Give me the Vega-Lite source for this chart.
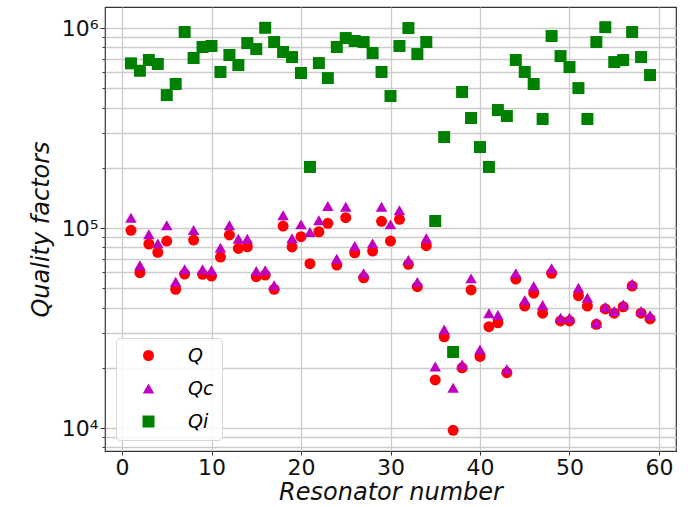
{
  "$schema": "https://vega.github.io/schema/vega-lite/v6.json",
  "width": 571,
  "height": 444,
  "autosize": "none",
  "padding": {"left": 105, "top": 7, "right": 18, "bottom": 56},
  "background": "white",
  "config": {
    "font": "DejaVu Sans",
    "view": {"stroke": "#333333", "strokeWidth": 1.2},
    "axis": {"domain": false, "tickColor": "#333333", "labelColor": "#111111", "titleColor": "#111111", "gridColor": "#cccccc", "gridWidth": 1.3}
  },
  "data": {"values": [
    {"n":1,"s":"Q","v":97400},{"n":2,"s":"Q","v":59800},{"n":3,"s":"Q","v":83200},{"n":4,"s":"Q","v":75600},{"n":5,"s":"Q","v":86100},
    {"n":6,"s":"Q","v":49400},{"n":7,"s":"Q","v":58900},{"n":8,"s":"Q","v":87100},{"n":9,"s":"Q","v":58700},{"n":10,"s":"Q","v":57500},
    {"n":11,"s":"Q","v":71600},{"n":12,"s":"Q","v":92300},{"n":13,"s":"Q","v":79100},{"n":14,"s":"Q","v":80600},{"n":15,"s":"Q","v":57100},
    {"n":16,"s":"Q","v":58200},{"n":17,"s":"Q","v":49400},{"n":18,"s":"Q","v":102300},{"n":19,"s":"Q","v":80400},{"n":20,"s":"Q","v":90500},
    {"n":21,"s":"Q","v":66300},{"n":22,"s":"Q","v":95800},{"n":23,"s":"Q","v":105600},{"n":24,"s":"Q","v":65300},{"n":25,"s":"Q","v":112600},
    {"n":26,"s":"Q","v":75200},{"n":27,"s":"Q","v":56400},{"n":28,"s":"Q","v":76700},{"n":29,"s":"Q","v":108000},{"n":30,"s":"Q","v":86100},
    {"n":31,"s":"Q","v":110500},{"n":32,"s":"Q","v":65800},{"n":33,"s":"Q","v":50900},{"n":34,"s":"Q","v":81600},{"n":35,"s":"Q","v":17400},
    {"n":36,"s":"Q","v":28600},{"n":37,"s":"Q","v":9740},{"n":38,"s":"Q","v":20000},{"n":39,"s":"Q","v":49000},{"n":40,"s":"Q","v":22800},
    {"n":41,"s":"Q","v":32100},{"n":42,"s":"Q","v":33600},{"n":43,"s":"Q","v":18900},{"n":44,"s":"Q","v":55600},{"n":45,"s":"Q","v":40700},
    {"n":46,"s":"Q","v":47200},{"n":47,"s":"Q","v":37500},{"n":48,"s":"Q","v":59400},{"n":49,"s":"Q","v":34300},{"n":50,"s":"Q","v":34300},
    {"n":51,"s":"Q","v":45900},{"n":52,"s":"Q","v":40700},{"n":53,"s":"Q","v":33000},{"n":54,"s":"Q","v":39400},{"n":55,"s":"Q","v":37500},
    {"n":56,"s":"Q","v":40400},{"n":57,"s":"Q","v":51300},{"n":58,"s":"Q","v":37500},{"n":59,"s":"Q","v":35100},
    {"n":1,"s":"Qc","v":112600},{"n":2,"s":"Qc","v":65100},{"n":3,"s":"Qc","v":93000},{"n":4,"s":"Qc","v":83800},{"n":5,"s":"Qc","v":103200},
    {"n":6,"s":"Qc","v":53900},{"n":7,"s":"Qc","v":62200},{"n":8,"s":"Qc","v":97700},{"n":9,"s":"Qc","v":62200},{"n":10,"s":"Qc","v":61500},
    {"n":11,"s":"Qc","v":79700},{"n":12,"s":"Qc","v":103200},{"n":13,"s":"Qc","v":88400},{"n":14,"s":"Qc","v":88400},{"n":15,"s":"Qc","v":61000},
    {"n":16,"s":"Qc","v":61500},{"n":17,"s":"Qc","v":51700},{"n":18,"s":"Qc","v":115700},{"n":19,"s":"Qc","v":88800},{"n":20,"s":"Qc","v":104300},
    {"n":21,"s":"Qc","v":95500},{"n":22,"s":"Qc","v":109300},{"n":23,"s":"Qc","v":128800},{"n":24,"s":"Qc","v":70200},{"n":25,"s":"Qc","v":127800},
    {"n":26,"s":"Qc","v":81300},{"n":27,"s":"Qc","v":59400},{"n":28,"s":"Qc","v":83800},{"n":29,"s":"Qc","v":127800},{"n":30,"s":"Qc","v":104300},
    {"n":31,"s":"Qc","v":122600},{"n":32,"s":"Qc","v":69200},{"n":33,"s":"Qc","v":53700},{"n":34,"s":"Qc","v":88800},{"n":35,"s":"Qc","v":20300},
    {"n":36,"s":"Qc","v":31100},{"n":37,"s":"Qc","v":15900},{"n":38,"s":"Qc","v":20800},{"n":39,"s":"Qc","v":56000},{"n":40,"s":"Qc","v":24700},
    {"n":41,"s":"Qc","v":37500},{"n":42,"s":"Qc","v":36700},{"n":43,"s":"Qc","v":19700},{"n":44,"s":"Qc","v":59400},{"n":45,"s":"Qc","v":43700},
    {"n":46,"s":"Qc","v":51100},{"n":47,"s":"Qc","v":41200},{"n":48,"s":"Qc","v":62900},{"n":49,"s":"Qc","v":35600},{"n":50,"s":"Qc","v":35600},
    {"n":51,"s":"Qc","v":50300},{"n":52,"s":"Qc","v":44800},{"n":53,"s":"Qc","v":33600},{"n":54,"s":"Qc","v":40300},{"n":55,"s":"Qc","v":38500},
    {"n":56,"s":"Qc","v":41500},{"n":57,"s":"Qc","v":52700},{"n":58,"s":"Qc","v":38500},{"n":59,"s":"Qc","v":36600},
    {"n":1,"s":"Qi","v":666000},{"n":2,"s":"Qi","v":611500},{"n":3,"s":"Qi","v":692000},{"n":4,"s":"Qi","v":661000},{"n":5,"s":"Qi","v":462000},
    {"n":6,"s":"Qi","v":525000},{"n":7,"s":"Qi","v":955000},{"n":8,"s":"Qi","v":708000},{"n":9,"s":"Qi","v":804000},{"n":10,"s":"Qi","v":813000},
    {"n":11,"s":"Qi","v":603000},{"n":12,"s":"Qi","v":733000},{"n":13,"s":"Qi","v":653000},{"n":14,"s":"Qi","v":841000},{"n":15,"s":"Qi","v":785000},
    {"n":16,"s":"Qi","v":1003000},{"n":17,"s":"Qi","v":851000},{"n":18,"s":"Qi","v":759000},{"n":19,"s":"Qi","v":716000},{"n":20,"s":"Qi","v":596000},
    {"n":21,"s":"Qi","v":202000},{"n":22,"s":"Qi","v":668000},{"n":23,"s":"Qi","v":562000},{"n":24,"s":"Qi","v":804000},{"n":25,"s":"Qi","v":891000},
    {"n":26,"s":"Qi","v":861000},{"n":27,"s":"Qi","v":851000},{"n":28,"s":"Qi","v":750000},{"n":29,"s":"Qi","v":603000},{"n":30,"s":"Qi","v":457000},
    {"n":31,"s":"Qi","v":813000},{"n":32,"s":"Qi","v":1000000},{"n":33,"s":"Qi","v":741000},{"n":34,"s":"Qi","v":851000},{"n":35,"s":"Qi","v":108400},
    {"n":36,"s":"Qi","v":285000},{"n":37,"s":"Qi","v":24000},{"n":38,"s":"Qi","v":479000},{"n":39,"s":"Qi","v":355000},{"n":40,"s":"Qi","v":254000},
    {"n":41,"s":"Qi","v":202000},{"n":42,"s":"Qi","v":389000},{"n":43,"s":"Qi","v":363000},{"n":44,"s":"Qi","v":692000},{"n":45,"s":"Qi","v":603000},
    {"n":46,"s":"Qi","v":525000},{"n":47,"s":"Qi","v":351000},{"n":48,"s":"Qi","v":912000},{"n":49,"s":"Qi","v":724000},{"n":50,"s":"Qi","v":638000},
    {"n":51,"s":"Qi","v":501000},{"n":52,"s":"Qi","v":351000},{"n":53,"s":"Qi","v":851000},{"n":54,"s":"Qi","v":1010000},{"n":55,"s":"Qi","v":676000},
    {"n":56,"s":"Qi","v":692000},{"n":57,"s":"Qi","v":955000},{"n":58,"s":"Qi","v":716000},{"n":59,"s":"Qi","v":582000}
  ]},
  "mark": {"type": "point", "filled": true, "opacity": 1, "strokeWidth": 0},
  "encoding": {
    "x": {
      "field": "n", "type": "quantitative",
      "scale": {"domain": [-1.9, 61.9], "nice": false, "zero": false},
      "axis": {
        "title": "Resonator number", "titleFontSize": 24, "titleFontStyle": "italic", "titleFontWeight": "normal", "titlePadding": 2,
        "values": [0, 10, 20, 30, 40, 50, 60], "labelFontSize": 22, "tickSize": 4, "labelPadding": 2, "grid": true, "labelFlush": false
      }
    },
    "y": {
      "field": "v", "type": "quantitative",
      "scale": {"type": "log", "domain": [7674, 1274000], "nice": false},
      "axis": {
        "title": "Quality factors", "titleFontSize": 24, "titleFontStyle": "italic", "titleFontWeight": "normal", "titlePadding": 8,
        "values": [8000, 9000, 10000, 20000, 30000, 40000, 50000, 60000, 70000, 80000, 90000, 100000, 200000, 300000, 400000, 500000, 600000, 700000, 800000, 900000, 1000000],
        "labelExpr": "datum.value == 10000 ? '10⁴' : datum.value == 100000 ? '10⁵' : datum.value == 1000000 ? '10⁶' : ''",
        "labelFontSize": 22, "labelPadding": 2, "labelOverlap": false, "labelFlush": false, "grid": true,
        "tickSize": {"condition": {"test": "datum.value == 10000 || datum.value == 100000 || datum.value == 1000000", "value": 5}, "value": 3}
      }
    },
    "size": {
      "field": "s", "type": "nominal",
      "scale": {"domain": ["Q", "Qc", "Qi"], "range": [121, 144, 121]},
      "legend": null
    },
    "color": {
      "field": "s", "type": "nominal",
      "scale": {"domain": ["Q", "Qc", "Qi"], "range": ["#ff0000", "#bf00bf", "#008000"]},
      "legend": {
        "title": null, "orient": "bottom-left", "offset": 11, "padding": 8,
        "fillColor": "rgba(255,255,255,0.85)", "strokeColor": "#d5d5d5", "cornerRadius": 4,
        "labelFontSize": 19, "labelFontStyle": "italic", "labelOffset": 30, "symbolOffset": 15, "rowPadding": 13,
        "symbolSize": 121, "symbolStrokeWidth": 0
      }
    },
    "shape": {
      "field": "s", "type": "nominal",
      "scale": {"domain": ["Q", "Qc", "Qi"], "range": ["circle", "triangle-up", "square"]},
      "legend": {
        "title": null, "orient": "bottom-left", "offset": 11, "padding": 8,
        "fillColor": "rgba(255,255,255,0.85)", "strokeColor": "#d5d5d5", "cornerRadius": 4,
        "labelFontSize": 19, "labelFontStyle": "italic", "labelOffset": 30, "symbolOffset": 15, "rowPadding": 13,
        "symbolSize": 121, "symbolStrokeWidth": 0
      }
    }
  }
}
